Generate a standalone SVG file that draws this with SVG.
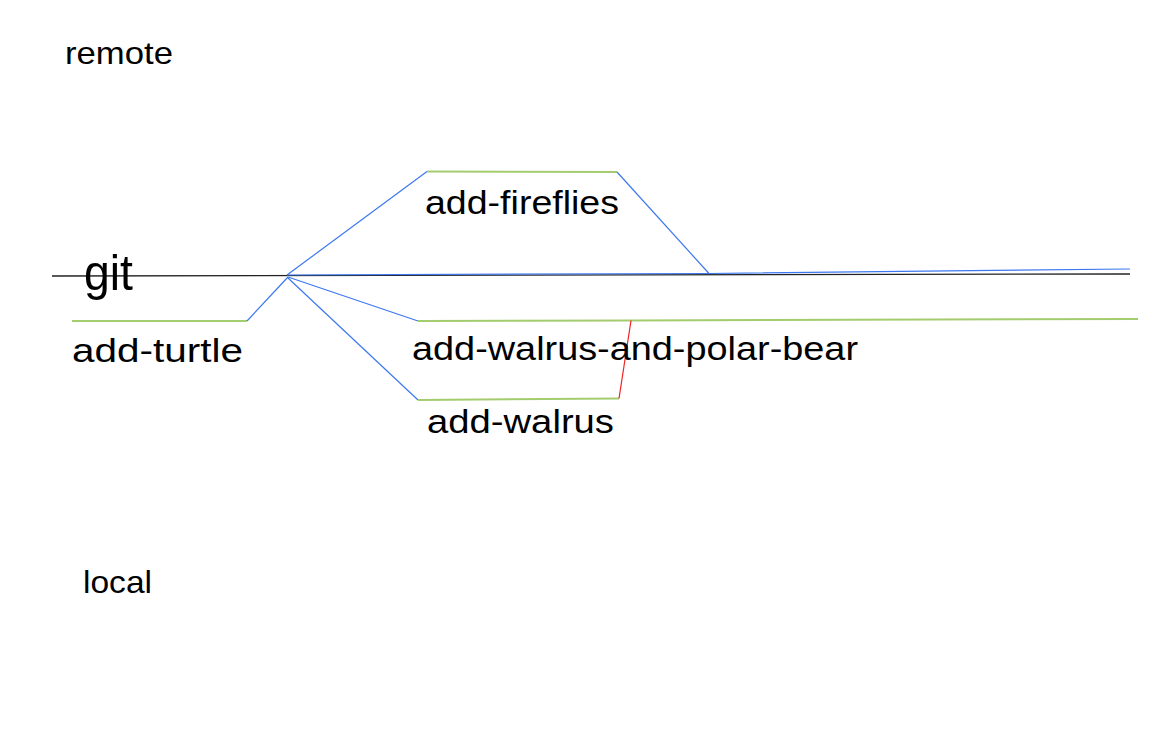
<svg xmlns="http://www.w3.org/2000/svg" width="1168" height="730" viewBox="0 0 1168 730">
<style>
text{font-family:"Liberation Sans",Arial,sans-serif;fill:#000}
.lbl{font-size:34px}
.blue{stroke:#3c78f0;stroke-width:1.2;fill:none}
.green{stroke:#a3cc6e;stroke-width:2;fill:none}
.red{stroke:#f02020;stroke-width:1.2;fill:none}
.black{stroke:#222;stroke-width:1.3;fill:none}
</style>
<rect width="1168" height="730" fill="#fff"/>
<g id="connectors">
<line class="black" x1="52" y1="276" x2="1130" y2="274"/>
<polyline class="blue" points="287,275 709,273.5 1130,269"/>
<polyline class="blue" points="287,275 427,171.5"/>
<line class="green" x1="427" y1="171.5" x2="617" y2="172"/>
<polyline class="blue" points="617,172 709,273.5"/>
<line class="green" x1="72" y1="321" x2="247" y2="321"/>
<line class="blue" x1="247" y1="321" x2="288" y2="277"/>
<line class="blue" x1="288" y1="277" x2="418" y2="321"/>
<polyline class="green" points="418,321 631,320.5 1138,319"/>
<line class="blue" x1="288" y1="278" x2="418" y2="400"/>
<line class="green" x1="418" y1="400" x2="619" y2="398.5"/>
<line class="red" x1="619" y1="398.5" x2="631" y2="320.5"/>
</g>
<g id="remote"><text x="65" y="64" font-size="32" textLength="108" lengthAdjust="spacingAndGlyphs">remote</text></g>
<g id="local"><text x="83" y="593" font-size="32" textLength="69" lengthAdjust="spacingAndGlyphs">local</text></g>
<g id="git"><text x="84" y="290" font-size="50" textLength="49" lengthAdjust="spacingAndGlyphs">git</text></g>
<g id="add-fireflies"><text class="lbl" x="425" y="214" textLength="194" lengthAdjust="spacingAndGlyphs">add-fireflies</text></g>
<g id="add-turtle"><text class="lbl" x="72" y="362" textLength="171" lengthAdjust="spacingAndGlyphs">add-turtle</text></g>
<g id="add-walrus-and-polar-bear"><text class="lbl" x="412" y="360" textLength="446" lengthAdjust="spacingAndGlyphs">add-walrus-and-polar-bear</text></g>
<g id="add-walrus"><text class="lbl" x="427" y="433" textLength="187" lengthAdjust="spacingAndGlyphs">add-walrus</text></g>
</svg>
